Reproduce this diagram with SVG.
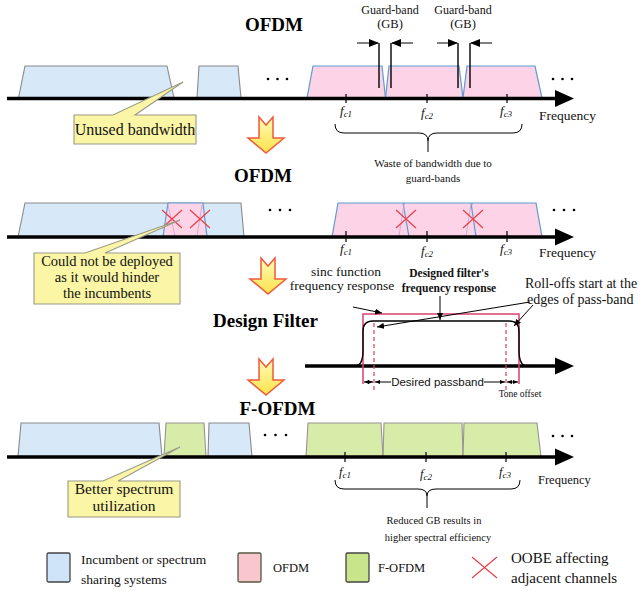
<svg xmlns="http://www.w3.org/2000/svg" width="641" height="594" viewBox="0 0 641 594">
<style>
.t{font-family:"Liberation Serif","Times New Roman",serif;fill:#111}
.title{font-family:"Liberation Serif","Times New Roman",serif;font-weight:bold;font-size:19px;fill:#000}
.blue{fill:#d7e8f8;stroke:#8a8a8a;stroke-width:1.1}
.pink{fill:#fcd3e7;stroke:#5e9bd0;stroke-width:1.2}
.green{fill:#d8eca9;stroke:#949494;stroke-width:1.1}
.axis{stroke:#000;stroke-width:3.5;fill:none}
.tick{stroke:#000;stroke-width:1.2}
.call{fill:#fbf6a6;stroke:#9a9a86;stroke-width:1.1}
.x{stroke:#e8404a;stroke-width:1.2;fill:none}
.ln{stroke:#000;stroke-width:1;fill:none}
.dot{fill:#000}
</style>
<defs>
<linearGradient id="yg" x1="0" y1="0" x2="0" y2="1">
<stop offset="0" stop-color="#fffbb8"/>
<stop offset="1" stop-color="#ffe24a"/>
</linearGradient>
<path id="ya" d="M-7,0 L0,8 L7,0 L7,21 L18,21 L0,36 L-18,21 L-7,21 Z" fill="url(#yg)" stroke="#f05a3c" stroke-width="1.5" stroke-linejoin="miter"/>
<marker id="ah" markerWidth="10" markerHeight="8" refX="9" refY="4" orient="auto" markerUnits="userSpaceOnUse">
<path d="M0,0 L10,4 L0,8 Z" fill="#000"/>
</marker>
<marker id="as" markerWidth="7" markerHeight="6" refX="7" refY="3" orient="auto" markerUnits="userSpaceOnUse">
<path d="M0,0 L7,3 L0,6 Z" fill="#000"/>
</marker>
<marker id="at" markerWidth="5" markerHeight="4" refX="5" refY="2" orient="auto-start-reverse" markerUnits="userSpaceOnUse">
<path d="M0,0 L5,2 L0,4 Z" fill="#000"/>
</marker>
<g id="cross"><path d="M-10,-9 L10,9 M-10,9 L10,-9" class="x"/></g>
</defs>

<!-- Row 1: OFDM -->
<g id="row1">
<text class="title" x="274" y="31" text-anchor="middle">OFDM</text>
<polygon class="blue" points="18.5,98 25,66 167,66 174,98"/>
<polygon class="blue" points="197,98 199,66 238,66 241,98"/>
<polygon class="pink" points="307,98 313,66 382,66 385.5,98"/>
<polygon class="pink" points="385.5,98 389,66 459,66 463,98"/>
<polygon class="pink" points="463,98 467,66 535,66 542,98"/>
<circle class="dot" cx="268" cy="79" r="1.3"/><circle class="dot" cx="277.5" cy="79" r="1.3"/><circle class="dot" cx="287" cy="79" r="1.3"/>
<circle class="dot" cx="553" cy="79" r="1.3"/><circle class="dot" cx="562.5" cy="79" r="1.3"/><circle class="dot" cx="572" cy="79" r="1.3"/>
<line class="axis" x1="7" y1="98.5" x2="558" y2="98.5"/>
<polygon points="555,90 574,98.5 555,107" fill="#000"/>
<line class="tick" x1="346" y1="94" x2="346" y2="103"/>
<line class="tick" x1="427" y1="94" x2="427" y2="103"/>
<line class="tick" x1="507" y1="94" x2="507" y2="103"/>
<text class="t" x="340" y="115" font-size="13"><tspan font-style="italic">f</tspan><tspan font-size="9" dy="2" font-style="italic">c1</tspan></text>
<text class="t" x="421" y="117" font-size="13"><tspan font-style="italic">f</tspan><tspan font-size="9" dy="2" font-style="italic">c2</tspan></text>
<text class="t" x="500" y="115" font-size="13"><tspan font-style="italic">f</tspan><tspan font-size="9" dy="2" font-style="italic">c3</tspan></text>
<text class="t" x="539" y="120" font-size="13.5">Frequency</text>
<line x1="379" y1="43" x2="379" y2="88" stroke="#000" stroke-width="1.4"/>
<line x1="391" y1="43" x2="391" y2="88" stroke="#000" stroke-width="1.4"/>
<line x1="458" y1="43" x2="458" y2="88" stroke="#000" stroke-width="1.4"/>
<line x1="470" y1="43" x2="470" y2="88" stroke="#000" stroke-width="1.4"/>
<text class="t" x="390" y="13.5" font-size="12" text-anchor="middle">Guard-band</text>
<text class="t" x="390" y="27.5" font-size="12.5" text-anchor="middle">(GB)</text>
<text class="t" x="463" y="13.5" font-size="12" text-anchor="middle">Guard-band</text>
<text class="t" x="463" y="27.5" font-size="12.5" text-anchor="middle">(GB)</text>
<path class="ln" d="M335,124 Q335,133 344,133 L419,133 Q428,133 428,141 L428,152 M428,141 Q428,133 437,133 L513,133 Q522,133 522,124"/>
<text class="t" x="433" y="167" font-size="11" text-anchor="middle">Waste of bandwidth due to</text>
<text class="t" x="433" y="182" font-size="11" text-anchor="middle">guard-bands</text>
</g>

<g id="callout1">
<path class="call" d="M74,115 L113,115 L183,82 L135,115 L196,115 L196,144 L74,144 Z"/>
<text class="t" x="135" y="135" font-size="16" text-anchor="middle">Unused bandwidth</text>
</g>

<g id="arrow1"><use href="#ya" transform="translate(266,117)"/></g>

<!-- Row 2: OFDM -->
<g id="row2">
<text class="title" x="263" y="182" text-anchor="middle">OFDM</text>
<polygon class="blue" points="18,237 25,203 241,203 244,237"/>
<polygon class="pink" points="163,237 168,203 203,203 207,237"/>
<path d="M168,205 L175,236 M202,205 L197,236" stroke="#d8a6c8" stroke-width="0.9" fill="none"/>
<polygon class="pink" points="466,237 472,203 536,203 542,237"/>
<polygon class="pink" points="399,237 404,203 471,203 476,237"/>
<polygon class="pink" points="332,237 338,203 403,203 409,237"/>
<path d="M399,236 L404,204 M466,236 L471,204" stroke="#c8a8d8" stroke-width="0.9" fill="none"/>
<use href="#cross" transform="translate(172,219)"/>
<use href="#cross" transform="translate(200,219)"/>
<use href="#cross" transform="translate(406,219)"/>
<use href="#cross" transform="translate(473,219)"/>
<circle class="dot" cx="270" cy="210" r="1.3"/><circle class="dot" cx="280" cy="210" r="1.3"/><circle class="dot" cx="290" cy="210" r="1.3"/>
<circle class="dot" cx="554" cy="210" r="1.3"/><circle class="dot" cx="564" cy="210" r="1.3"/><circle class="dot" cx="574" cy="210" r="1.3"/>
<line class="axis" x1="7" y1="237" x2="558" y2="237"/>
<polygon points="555,228.5 574,237 555,245.5" fill="#000"/>
<line class="tick" x1="346" y1="231" x2="346" y2="242"/>
<line class="tick" x1="427" y1="231" x2="427" y2="242"/>
<line class="tick" x1="507" y1="231" x2="507" y2="242"/>
<text class="t" x="340" y="253" font-size="13"><tspan font-style="italic">f</tspan><tspan font-size="9" dy="2" font-style="italic">c1</tspan></text>
<text class="t" x="421" y="255" font-size="13"><tspan font-style="italic">f</tspan><tspan font-size="9" dy="2" font-style="italic">c2</tspan></text>
<text class="t" x="500" y="253" font-size="13"><tspan font-style="italic">f</tspan><tspan font-size="9" dy="2" font-style="italic">c3</tspan></text>
<text class="t" x="539" y="257" font-size="13.5">Frequency</text>
</g>

<g id="callout2">
<path class="call" d="M34,253 L85,253 L180,220 L105,253 L180,253 L180,304 L34,304 Z"/>
<text class="t" x="107" y="266" font-size="14.5" text-anchor="middle">Could not be deployed</text>
<text class="t" x="107" y="282" font-size="14.5" text-anchor="middle">as it would hinder</text>
<text class="t" x="107" y="298" font-size="14.5" text-anchor="middle">the incumbents</text>
</g>

<g id="arrow2"><use href="#ya" transform="translate(268,258)"/></g>

<!-- Design Filter -->
<g id="filter">
<text class="title" x="265.5" y="327" text-anchor="middle">Design Filter</text>
<line class="axis" x1="305" y1="366" x2="558" y2="366"/>
<polygon points="555,357.5 574,366 555,374.5" fill="#000"/>
<path d="M363,384 L363,314 L519,314 L519,384" fill="none" stroke="#d8406e" stroke-width="1.5"/>
<path d="M355,366 C361,366 363,360 363,350 L363,331 Q363,321 373,321 L509,321 Q519,321 519,331 L519,350 C519,360 521,366 527,366" fill="none" stroke="#000" stroke-width="1.4"/>
<line x1="374" y1="323" x2="374" y2="392" stroke="#e0405a" stroke-width="1.2" stroke-dasharray="4,3"/>
<line x1="506" y1="323" x2="506" y2="392" stroke="#e0405a" stroke-width="1.2" stroke-dasharray="4,3"/>
<text x="437.5" y="386" font-family="Liberation Sans, Arial, sans-serif" font-size="11.5" text-anchor="middle" fill="#111">Desired passband</text>
<text class="t" x="520" y="397" font-size="9.5" text-anchor="middle">Tone offset</text>
<text class="t" x="346" y="276" font-size="13.5" text-anchor="middle">sinc function</text>
<text class="t" x="342" y="290" font-size="13.5" text-anchor="middle">frequency response</text>
<text class="t" x="449" y="277" font-size="11.5" font-weight="bold" text-anchor="middle">Designed filter's</text>
<text class="t" x="449" y="292" font-size="11.5" font-weight="bold" text-anchor="middle">frequency response</text>
<text class="t" x="525" y="288" font-size="14">Roll-offs start at the</text>
<text class="t" x="527" y="304" font-size="14">edges of pass-band</text>
</g>

<g id="arrow3"><use href="#ya" transform="translate(266,359)"/></g>

<!-- Row 4: F-OFDM -->
<g id="row4">
<text class="title" x="277.5" y="415" text-anchor="middle">F-OFDM</text>
<polygon class="blue" points="18,457 21,423 159,423 162,457"/>
<polygon class="green" points="164,457 166,423 204,423 206,457"/>
<polygon class="blue" points="208,457 209,423 249,423 252,457"/>
<polygon class="green" points="306,457 308,423 381,423 383,457"/>
<polygon class="green" points="383,457 384,423 462,423 463,457"/>
<polygon class="green" points="463,457 464,423 537,423 541,457"/>
<circle class="dot" cx="265" cy="435" r="1.3"/><circle class="dot" cx="275.5" cy="435" r="1.3"/><circle class="dot" cx="286" cy="435" r="1.3"/>
<circle class="dot" cx="553" cy="436" r="1.3"/><circle class="dot" cx="562.5" cy="436" r="1.3"/><circle class="dot" cx="572" cy="436" r="1.3"/>
<line class="axis" x1="7" y1="457" x2="558" y2="457"/>
<polygon points="555,448.5 574,457 555,465.5" fill="#000"/>
<line class="tick" x1="345" y1="452" x2="345" y2="462"/>
<line class="tick" x1="426" y1="452" x2="426" y2="462"/>
<line class="tick" x1="506" y1="452" x2="506" y2="462"/>
<text class="t" x="339" y="476" font-size="12.5"><tspan font-style="italic">f</tspan><tspan font-size="9" dy="2" font-style="italic">c1</tspan></text>
<text class="t" x="420" y="478" font-size="12.5"><tspan font-style="italic">f</tspan><tspan font-size="9" dy="2" font-style="italic">c2</tspan></text>
<text class="t" x="499" y="476" font-size="12.5"><tspan font-style="italic">f</tspan><tspan font-size="9" dy="2" font-style="italic">c3</tspan></text>
<text class="t" x="538" y="484" font-size="12.5">Frequency</text>
<path class="ln" d="M335,480 Q335,489 344,489 L418,489 Q427,489 427,496 L427,508 M427,496 Q427,489 436,489 L511,489 Q520,489 520,480"/>
<text class="t" x="434" y="524" font-size="10.5" text-anchor="middle">Reduced GB results in</text>
<text class="t" x="438" y="541" font-size="10.5" text-anchor="middle">higher spectral efficiency</text>
</g>

<g id="callout3">
<path class="call" d="M68,481 L103,481 L180,447 L118,481 L180,481 L180,517 L68,517 Z"/>
<text class="t" x="124" y="494" font-size="15.5" text-anchor="middle">Better spectrum</text>
<text class="t" x="124" y="511" font-size="15.5" text-anchor="middle">utilization</text>
</g>

<!-- Legend -->
<g id="legend-incumbent">
<rect x="47" y="553" width="23" height="29" rx="1.5" fill="#cfe3f9" stroke="#444" stroke-width="1.3"/>
<text class="t" x="81" y="564" font-size="13.5">Incumbent or spectrum</text>
<text class="t" x="81" y="584" font-size="13.5">sharing systems</text>
</g>
<g id="legend-ofdm">
<rect x="238" y="553" width="23" height="29" rx="1.5" fill="#f9c6cd" stroke="#554" stroke-width="1.3"/>
<text class="t" x="273" y="572" font-size="12.5">OFDM</text>
</g>
<g id="legend-fofdm">
<rect x="346" y="553" width="23" height="29" rx="1.5" fill="#c9e58c" stroke="#444" stroke-width="1.3"/>
<text class="t" x="378" y="572" font-size="12.5">F-OFDM</text>
</g>
<g id="legend-oobe">
<path d="M472,557 L497,578 M472,578 L497,557" class="x"/>
<text class="t" x="511" y="563" font-size="15">OOBE affecting</text>
<text class="t" x="511" y="583" font-size="15">adjacent channels</text>
</g>

<!-- Connectors -->
<g id="connectors">
<line class="ln" x1="357" y1="43" x2="378" y2="43" stroke-width="1.3" marker-end="url(#ah)"/>
<line class="ln" x1="413" y1="43" x2="392" y2="43" stroke-width="1.3" marker-end="url(#ah)"/>
<line class="ln" x1="437" y1="43" x2="457" y2="43" stroke-width="1.3" marker-end="url(#ah)"/>
<line class="ln" x1="492" y1="43" x2="471" y2="43" stroke-width="1.3" marker-end="url(#ah)"/>
<line class="ln" x1="353" y1="307" x2="382" y2="313" marker-end="url(#as)"/>
<line class="ln" x1="440" y1="296" x2="440" y2="320" marker-end="url(#as)"/>
<line class="ln" x1="530" y1="302" x2="377" y2="327" marker-end="url(#as)"/>
<line class="ln" x1="533" y1="305" x2="514" y2="326" marker-end="url(#as)"/>
<line class="ln" x1="364" y1="382" x2="373" y2="382" stroke-width="0.8" marker-start="url(#at)" marker-end="url(#at)"/>
<line class="ln" x1="375" y1="382" x2="391" y2="382" stroke-width="0.8" marker-start="url(#at)"/>
<line class="ln" x1="484" y1="382" x2="505" y2="382" stroke-width="0.8" marker-end="url(#at)"/>
<line class="ln" x1="507" y1="382" x2="518" y2="382" stroke-width="0.8" marker-start="url(#at)" marker-end="url(#at)"/>
</g>
</svg>
